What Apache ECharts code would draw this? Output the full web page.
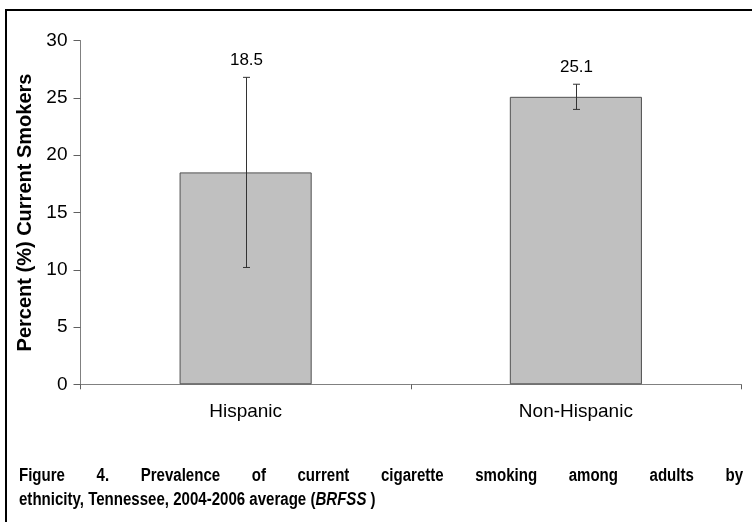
<!DOCTYPE html>
<html>
<head>
<meta charset="utf-8">
<script src="https://cdn.jsdelivr.net/npm/echarts@6/dist/echarts.min.js"></script>
<style>html,body{margin:0;padding:0;background:#fff}#c{width:752px;height:522px}</style>
</head>
<body>
<div id="c"></div>
<script>
const categories = ['Hispanic', 'Non-Hispanic'];
const values = [18.5, 25.1];
const lowerCI = [10.2, 24.0];
const upperCI = [26.8, 26.2];
const yTicks = [0, 5, 10, 15, 20, 25, 30];
const yAxisTitle = 'Percent (%) Current Smokers';
const captionLine1 = 'Figure 4.  Prevalence of current cigarette smoking among adults by';
const captionLine2a = 'ethnicity, Tennessee, 2004-2006 average (';
const captionLine2b = 'BRFSS';
const captionLine2c = ' )';

const FONT = '"Liberation Sans", Arial, sans-serif';
const CAPSIZE = 17.5;
const CAPSCALE = 0.86;
const chart = echarts.init(document.getElementById('c'));

const cv = document.createElement('canvas').getContext('2d');
cv.font = 'bold ' + CAPSIZE + 'px "Liberation Sans"';
const words = captionLine1.split(/\s+/);
const x0 = 19, x1 = 743;
const wsum = words.reduce((s, w) => s + cv.measureText(w).width * CAPSCALE, 0);
const gap = (x1 - x0 - wsum) / (words.length - 1);
const captionEls = [];
let cx = x0;
words.forEach(w => {
  captionEls.push({type: 'text', x: cx, y: 476, scaleX: CAPSCALE,
    style: {text: w, font: 'bold ' + CAPSIZE + 'px ' + FONT, fill: '#000', verticalAlign: 'middle'}});
  cx += cv.measureText(w).width * CAPSCALE + gap;
});
captionEls.push({type: 'text', x: x0, y: 500.5, scaleX: CAPSCALE, style: {
  text: '{a|' + captionLine2a + '}{b|' + captionLine2b + '}{a|' + captionLine2c + '}',
  verticalAlign: 'middle',
  rich: {a: {font: 'bold ' + CAPSIZE + 'px ' + FONT, fill: '#000'}, b: {font: 'italic bold ' + CAPSIZE + 'px ' + FONT, fill: '#000'}}
}});

const option = {
  animation: false,
  grid: {left: 80.5, right: 11, top: 40.7, bottom: 137.7, containLabel: false},
  xAxis: {
    type: 'category', data: categories,
    axisLine: {lineStyle: {color: '#808080', width: 1}},
    axisTick: {show: true, length: 5, lineStyle: {color: '#606060'}},
    axisLabel: {color: '#000', fontFamily: FONT, fontSize: 19, margin: 18}
  },
  yAxis: {
    type: 'value', min: yTicks[0], max: yTicks[yTicks.length - 1], interval: 5,
    name: yAxisTitle, nameLocation: 'middle', nameGap: 34,
    nameTextStyle: {fontFamily: FONT, fontSize: 20, fontWeight: 'bold', color: '#000'},
    axisLine: {show: true, lineStyle: {color: '#808080'}},
    axisTick: {show: true, length: 7, lineStyle: {color: '#606060'}},
    axisLabel: {color: '#000', fontFamily: FONT, fontSize: 19, margin: 13},
    splitLine: {show: false}
  },
  series: [
    {
      type: 'bar', data: values, barWidth: '40%',
      itemStyle: {color: '#c0c0c0', borderColor: '#505050', borderWidth: 1}
    },
    {
      type: 'custom',
      data: categories.map((c, i) => [i, lowerCI[i], upperCI[i], values[i]]),
      encode: {x: 0, y: [1, 2]},
      renderItem: function (params, api) {
        const lo = api.coord([api.value(0), api.value(1)]);
        const hi = api.coord([api.value(0), api.value(2)]);
        const x = Math.round(lo[0]) + 0.5;
        const cap = 3.5;
        const st = {stroke: '#333', lineWidth: 1};
        return {
          type: 'group',
          children: [
            {type: 'line', shape: {x1: x, y1: lo[1], x2: x, y2: hi[1]}, style: st},
            {type: 'line', shape: {x1: x - cap, y1: lo[1], x2: x + cap, y2: lo[1]}, style: st},
            {type: 'line', shape: {x1: x - cap, y1: hi[1], x2: x + cap, y2: hi[1]}, style: st},
            {type: 'text', x: x, y: hi[1] - 17, style: {
              text: api.value(3).toFixed(1), font: '17px ' + FONT, fill: '#000',
              align: 'center', verticalAlign: 'middle'}}
          ]
        };
      },
      z: 5
    }
  ],
  graphic: [
    {type: 'rect', shape: {x: 6, y: 10, width: 800, height: 600}, style: {fill: 'none', stroke: '#000', lineWidth: 2}, silent: true}
  ].concat(captionEls)
};
chart.setOption(option);
</script>
</body>
</html>
